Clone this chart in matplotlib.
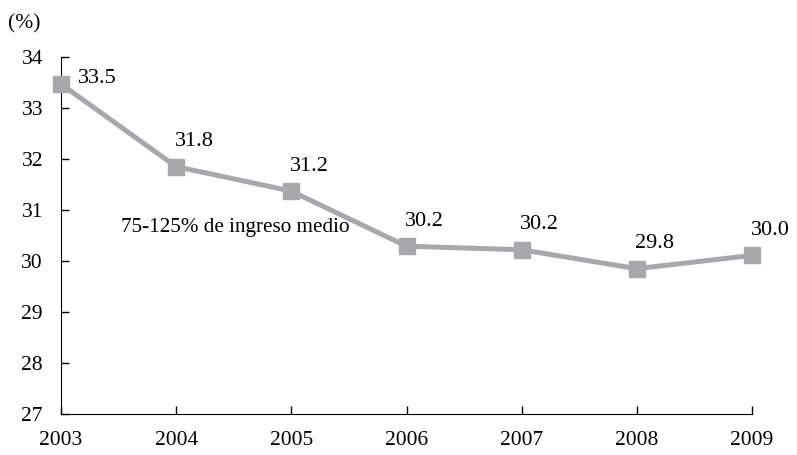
import matplotlib
matplotlib.use('Agg')
import matplotlib.pyplot as plt

years = [2003, 2004, 2005, 2006, 2007, 2008, 2009]
values = [33.47, 31.85, 31.37, 30.29, 30.22, 29.85, 30.11]
value_labels = ['33.5', '31.8', '31.2', '30.2', '30.2', '29.8', '30.0']
yticks = [27, 28, 29, 30, 31, 32, 33, 34]

plt.rcParams['font.family'] = ['Liberation Serif', 'DejaVu Serif']

fig = plt.figure(figsize=(7.97, 4.55), dpi=100)
ax = fig.add_axes([61 / 797, 41 / 455, (752 - 61) / 797, (414 - 57) / 455])

gray = '#a8a8aa'
ax.plot(years, values, color=gray, linewidth=3.6, marker='s',
        markersize=12, markerfacecolor=gray, markeredgecolor=gray,
        clip_on=False, zorder=3)

for i, (x, y, lab) in enumerate(zip(years, values, value_labels)):
    if i == 0:
        ax.annotate(lab, (x, y), xytext=(12, 4), textcoords='offset points',
                    ha='left', va='center', fontsize=16)
    else:
        ax.annotate(lab, (x, y), xytext=(-1, 18), textcoords='offset points',
                    ha='left', va='center', fontsize=16)

ax.text(2003.52, 30.65, '75-125% de ingreso medio', ha='left', va='center',
        fontsize=15.2)

ax.set_xlim(2003, 2009)
ax.set_ylim(27, 34)
ax.set_xticks(years)
ax.set_yticks(yticks)
ax.spines['top'].set_visible(False)
ax.spines['right'].set_visible(False)
ax.tick_params(direction='in', length=6, width=1, labelsize=15.5)
ax.tick_params(axis='y', pad=13)
ax.tick_params(axis='x', pad=12)

fig.text(24 / 797, 1 - 24 / 455, '(%)', ha='center', va='center', fontsize=15.5)

fig.savefig('out.png', dpi=100)
